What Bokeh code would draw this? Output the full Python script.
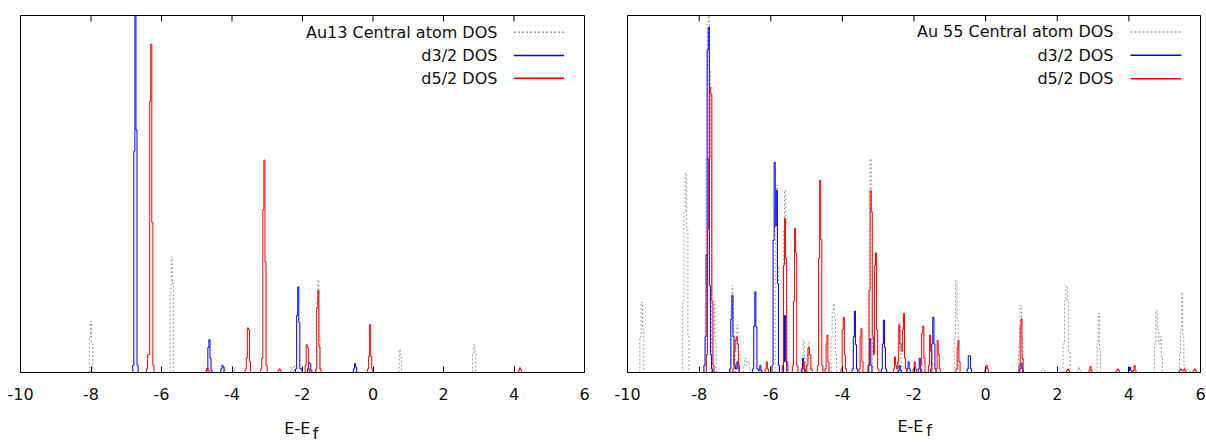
import math
import json
from bokeh.plotting import figure
from bokeh.models import (Range1d, FixedTicker, Label, Arrow, LinearAxis,
                          CustomJSTickFormatter)
from bokeh.layouts import row
from bokeh.embed import file_html
from bokeh.resources import INLINE

FONT = "DejaVu Sans"
x_ticks = [-10, -8, -6, -4, -2, 0, 2, 4, 6]
x_tick_labels = ["-10", "-8", "-6", "-4", "-2", "0", "2", "4", "6"]

# ---------------- Au13 (left panel) : energy (eV) / DOS (% of axis height) ----------------
au13_total_E = [-8.03, -8.00, -7.97, -5.74, -5.71, -5.68, -4.22, -3.95, -2.32, -2.24,
                -1.58, -1.55, -1.52, 0.76, 0.79, 2.84, 2.87, 2.90]
au13_total_dos = [10, 14.3, 8, 22, 32.4, 25, 1.5, 1, 1.5, 2,
                  20, 26, 10, 6.4, 5, 5, 7.8, 6]

au13_d32_E = [-6.80, -6.77, -6.74, -6.71, -6.68,
              -4.70, -4.67, -4.64, -4.61, -4.58,
              -4.30, -4.27, -4.24,
              -2.18, -2.15, -2.12, -2.09, -2.06, -2.03,
              -1.84, -1.81, -1.78, -1.75,
              -0.54, -0.51, -0.48]
au13_d32_dos = [2, 62, 105, 68, 2,
                1, 7, 9.2, 4, 0.5,
                1, 2, 1.5,
                1, 16, 24, 14, 1, 1,
                1, 2.8, 2.5, 0.5,
                1, 2.5, 1.5]

au13_d52_E = [-6.41, -6.38, -6.35, -6.32, -6.29, -6.26, -6.23,
              -4.72, -4.69, -4.66,
              -3.61, -3.58, -3.55, -3.52, -3.49,
              -3.17, -3.14, -3.11, -3.08, -3.05, -3.02,
              -2.68, -2.65, -2.62,
              -1.91, -1.88, -1.85, -1.82,
              -1.61, -1.58, -1.55, -1.52, -1.49,
              -0.14, -0.11, -0.08, -0.05, -0.02,
              4.14, 4.17, 4.20]
au13_d52_dos = [1, 5, 5, 76, 92, 42, 2,
                0.5, 1.2, 0.5,
                1, 4, 12.5, 12, 3,
                1, 4, 45.7, 59.5, 31, 2,
                0.5, 1, 0.5,
                2, 7.8, 7, 1,
                1, 18, 23, 7.3, 1,
                1, 4.5, 13.4, 4.5, 1,
                0.5, 1.3, 0.8]

# ---------------- Au55 (right panel) ----------------
au55_total_E = [-9.64, -9.60, -9.56,
                -8.44, -8.41, -8.37, -8.33, -8.30,
                -7.79, -7.76, -7.73, -7.70, -7.67,
                -7.60, -7.57, -7.54,
                -7.10, -7.07, -7.04,
                -6.96, -6.93, -6.90,
                -6.75, -6.71, -6.67, -6.62, -6.58,
                -5.86, -5.83, -5.80,
                -5.63, -5.60, -5.57,
                -5.11, -5.08, -5.05, -4.97, -4.94, -4.91,
                -4.30, -4.27, -4.24, -4.21, -4.18,
                -3.24, -3.21, -3.18,
                -2.43, -2.40, -2.37,
                -0.86, -0.82, -0.78,
                0.94, 0.98, 1.02,
                1.58, 1.61, 1.64,
                2.18, 2.22, 2.26, 2.30, 2.34,
                2.58, 2.61, 2.64,
                3.13, 3.16, 3.19,
                4.73, 4.77, 4.81, 4.86, 4.89, 4.92,
                5.43, 5.46, 5.49, 5.52, 5.55,
                5.62, 5.65, 5.68]
au55_total_dos = [10, 19.7, 12,
                  20, 45, 55.8, 40, 10,
                  60, 98, 101, 85, 60,
                  10, 20, 8,
                  18, 24.4, 12,
                  8, 13.3, 6,
                  2, 4, 2, 3, 1,
                  45, 52.4, 30,
                  40, 51, 30,
                  4, 9, 4, 5, 8.5, 4,
                  10, 17, 19.2, 15, 5,
                  40, 59.8, 45,
                  8, 14, 6,
                  10, 25.8, 15,
                  8, 18.8, 10,
                  0.5, 1, 0.5,
                  8, 20, 24.3, 20, 6,
                  0.5, 1.5, 0.5,
                  8, 16.6, 6,
                  8, 17.4, 12, 8, 10, 4,
                  5, 12, 22.4, 10, 2,
                  0.5, 1, 0.5]

au55_d32_E = [-7.85, -7.82, -7.79, -7.76, -7.73, -7.70, -7.67, -7.64,
              -7.13, -7.10, -7.07, -7.04, -7.01,
              -6.96, -6.93, -6.90,
              -6.49, -6.46, -6.43, -6.40, -6.37,
              -6.32, -6.29, -6.26,
              -5.95, -5.92, -5.89, -5.86, -5.83, -5.80, -5.77,
              -5.63, -5.60, -5.57,
              -5.13, -5.10, -5.07,
              -3.71, -3.68, -3.65, -3.62, -3.59,
              -3.25, -3.22, -3.19,
              -2.90, -2.87, -2.84, -2.81, -2.78,
              -2.43, -2.40, -2.37,
              -2.18, -2.15, -2.12,
              -1.87, -1.84, -1.81,
              -1.52, -1.49, -1.46, -1.43, -1.40,
              -0.50, -0.47, -0.44, -0.41,
              0.97, 1.00, 1.03,
              4.00, 4.03, 4.06]
au55_d32_dos = [2, 10, 33, 90.3, 96.8, 24.4, 5, 1,
                1, 15, 21.6, 10, 2,
                1, 3, 1,
                1, 13, 22.6, 12.7, 1,
                0.5, 2, 0.5,
                2, 37, 58.9, 41, 51, 25, 2,
                3, 16, 3,
                1, 4, 1,
                1, 10, 17.2, 7.8, 1,
                2, 9.5, 2,
                1, 8, 14.7, 7, 1,
                0.5, 2, 0.5,
                1, 3, 1,
                1, 4, 1,
                1, 8, 15.5, 8, 1,
                1, 4.7, 4.7, 1,
                1, 2.6, 1,
                0.5, 1.5, 0.5]

au55_d52_E = [-7.78, -7.75, -7.72, -7.69, -7.66, -7.63, -7.60,
              -7.04, -7.01, -6.98, -6.95, -6.92, -6.89,
              -6.14, -6.11, -6.08,
              -5.66, -5.63, -5.60, -5.57, -5.54,
              -5.38, -5.35, -5.32, -5.29, -5.26,
              -5.11, -5.08, -5.05,
              -4.98, -4.94, -4.90, -4.86,
              -4.68, -4.65, -4.62, -4.59, -4.56,
              -4.47, -4.44, -4.42, -4.39,
              -4.02, -3.99, -3.96, -3.93, -3.90,
              -3.52, -3.49, -3.47, -3.44,
              -3.27, -3.24, -3.21, -3.18, -3.15, -3.12, -3.09, -3.06, -3.03, -3.00,
              -2.56, -2.53, -2.50, -2.47, -2.44, -2.41, -2.38, -2.34, -2.31, -2.28, -2.25, -2.22,
              -2.01, -1.98, -1.95,
              -1.80, -1.77, -1.74, -1.71,
              -1.58, -1.55, -1.52,
              -1.37, -1.34, -1.31, -1.28,
              -0.81, -0.78, -0.76, -0.73,
              0.00, 0.03, 0.06,
              0.95, 0.98, 1.00, 1.03,
              2.27, 2.30, 2.33,
              2.90, 2.93, 2.96,
              3.66, 3.69, 3.72,
              4.13, 4.16, 4.19,
              5.42, 5.45, 5.48, 5.52, 5.55, 5.58,
              5.81, 5.84, 5.87]
au55_d52_dos = [5, 40, 60, 80, 78, 20, 2,
                1, 6, 9, 10, 8, 2,
                1, 3, 1,
                2, 30, 43.2, 32, 3,
                2, 20, 40.4, 33.5, 2,
                1, 3, 1,
                2, 7, 5, 1,
                2, 32, 53.8, 37.2, 2,
                1, 8, 10.5, 3,
                1, 12, 15.5, 5, 1,
                1, 10, 12.3, 3,
                2, 23, 51, 45, 10, 5, 30, 33.5, 12, 1,
                1, 4.4, 2, 1, 3, 13.3, 8, 6, 12, 16.6, 4, 1,
                1, 3, 1,
                2, 11, 13, 4,
                2, 10.5, 6,
                1, 9, 5, 1,
                1, 7, 9, 3,
                1, 2, 1,
                2, 13, 15, 4,
                0.5, 1, 0.5,
                0.5, 1.7, 0.5,
                0.5, 1, 0.5,
                0.5, 2, 0.5,
                0.5, 1, 0.5, 0.5, 1, 0.5,
                0.5, 1, 0.5]

legend_au13 = ["Au13 Central atom DOS", "d3/2 DOS", "d5/2 DOS"]
legend_au55 = ["Au 55 Central atom DOS", "d3/2 DOS", "d5/2 DOS"]
x_label_main = "E-E"
x_label_sub = "f"

GRAY, BLUE, RED = "#a0a0a0", "#0000ff", "#ff0000"
TEXT = "#111111"


def steps(E, dos, half=0.017, gap=0.055):
    """Histogram-step outline of sampled DOS; zero at both ends of every group,
    line broken (NaN) between separate groups."""
    pts = sorted(zip(E, dos))
    groups, cur = [], [pts[0]]
    for a, b in zip(pts[:-1], pts[1:]):
        if b[0] - a[0] > gap:
            groups.append(cur)
            cur = []
        cur.append(b)
    groups.append(cur)
    xs, ys = [], []
    for g in groups:
        edges = [g[0][0] - half]
        edges += [(g[i][0] + g[i + 1][0]) / 2 for i in range(len(g) - 1)]
        edges.append(g[-1][0] + half)
        xs.append(edges[0]); ys.append(0)
        for i, (_, d) in enumerate(g):
            xs += [edges[i], edges[i + 1]]
            ys += [d, d]
        xs.append(edges[-1]); ys.append(0)
        xs.append(math.nan); ys.append(math.nan)
    return xs, ys


def text_axis(pos, text, standoff):
    """An extra below-axis used only to place one piece of the x-axis title."""
    return LinearAxis(ticker=FixedTicker(ticks=[pos], minor_ticks=[]),
                      formatter=CustomJSTickFormatter(code="return %s;" % json.dumps(text)),
                      major_tick_line_color=None, minor_tick_line_color=None,
                      axis_line_color=None, major_tick_in=0, major_tick_out=0,
                      major_label_standoff=standoff,
                      major_label_text_font=FONT, major_label_text_font_size="16px",
                      major_label_text_color=TEXT)


def make_panel(total, d32, d52, legend_texts, bl, fw, br, bt, fh, bb,
               leg_text_x, leg_line_x, leg_y, lab_x, lab_standoff):
    px_per_y = fh / 100.0
    p = figure(width=bl + fw + br, height=bt + fh + bb,
               x_range=Range1d(-10, 6), y_range=Range1d(0, 100),
               output_backend="svg", toolbar_location=None,
               y_axis_location=None,
               min_border_left=bl, min_border_right=br,
               min_border_top=bt, min_border_bottom=bb)
    p.xgrid.visible = False
    p.ygrid.visible = False
    p.outline_line_color = "black"
    p.outline_line_width = 1
    p.background_fill_color = "white"
    p.border_fill_color = "white"

    xa = p.xaxis[0]
    xa.ticker = FixedTicker(ticks=x_ticks, minor_ticks=[])
    xa.major_label_overrides = {t: s for t, s in zip(x_ticks, x_tick_labels)}
    xa.major_tick_in = 6
    xa.major_tick_out = 0
    xa.major_tick_line_color = "black"
    xa.minor_tick_line_color = None
    xa.axis_line_color = "black"
    xa.major_label_text_font = FONT
    xa.major_label_text_font_size = "16px"
    xa.major_label_text_color = TEXT
    xa.major_label_standoff = 15

    # x-axis title "E-E" with subscript "f"
    p.add_layout(text_axis(lab_x[0], x_label_main, lab_standoff[0]), "below")
    p.add_layout(text_axis(lab_x[1], x_label_sub, lab_standoff[1]), "below")

    # mirrored inward ticks on the top border
    tick_len = 6 / px_per_y
    p.segment(x0=x_ticks, y0=[100] * len(x_ticks), x1=x_ticks,
              y1=[100 - tick_len] * len(x_ticks), line_color="black", line_width=1)

    gx, gy = steps(*total)
    bx, by = steps(*d32)
    rx, ry = steps(*d52)
    p.line(gx, gy, line_color=GRAY, line_width=1, line_dash="2 2")
    p.line(bx, by, line_color=BLUE, line_width=1)
    p.line(rx, ry, line_color=RED, line_width=1)

    styles = [(GRAY, "2 2"), (BLUE, "solid"), (RED, "solid")]
    for txt, (col, dash), y in zip(legend_texts, styles, leg_y):
        p.add_layout(Label(x=leg_text_x, y=y, text=txt, text_align="right",
                           text_baseline="middle", text_font=FONT,
                           text_font_size="16px", text_color=TEXT))
        p.add_layout(Arrow(end=None, x_start=leg_line_x[0], y_start=y,
                           x_end=leg_line_x[1], y_end=y,
                           line_color=col, line_width=1.5, line_dash=dash))
    return p


p1 = make_panel((au13_total_E, au13_total_dos), (au13_d32_E, au13_d32_dos),
                (au13_d52_E, au13_d52_dos), legend_au13,
                bl=20, fw=564, br=28, bt=13, fh=360, bb=72,
                leg_text_x=3.53, leg_line_x=(4.0, 5.42), leg_y=(95.3, 88.8, 82.4),
                lab_x=(-2.147, -1.631), lab_standoff=(16, -17))

p2 = make_panel((au55_total_E, au55_total_dos), (au55_d32_E, au55_d32_dos),
                (au55_d52_E, au55_d52_dos), legend_au55,
                bl=15, fw=573, br=6, bt=15, fh=361, bb=69,
                leg_text_x=3.571, leg_line_x=(4.045, 5.469), leg_y=(95.4, 88.9, 82.3),
                lab_x=(-2.098, -1.581), lab_standoff=(14, -18))

layout = row(p1, p2)
open("out.html", "w").write(file_html(layout, INLINE))
